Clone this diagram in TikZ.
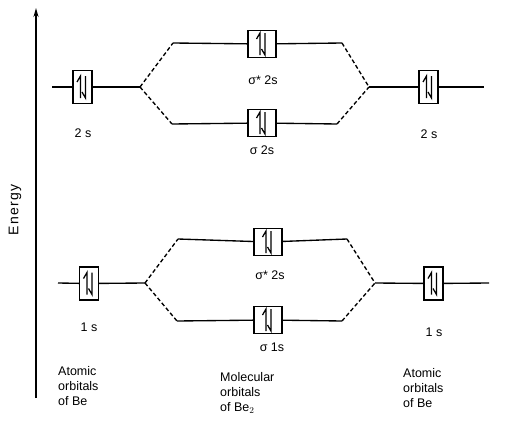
\documentclass[tikz,border=0pt]{standalone}
\usepackage{fontspec}
\setmainfont{Liberation Sans}
\usetikzlibrary{arrows.meta}
\begin{document}
\begin{tikzpicture}[x=1pt,y=-1pt,
  level/.style={line width=1.35pt},
  split/.style={line width=1.35pt,dash pattern=on 4pt off 2.5pt},
  harp/.style={line width=1.25pt,line join=miter},
  aobox/.style={draw,line width=1.25pt,fill=white,minimum width=19pt,minimum height=33pt,inner sep=0pt},
  mobox/.style={draw,line width=1.25pt,fill=white,minimum width=28pt,minimum height=27pt,inner sep=0pt},
  lbl/.style={font=\fontsize{12.5}{14}\selectfont,inner sep=0pt},
  blk/.style={font=\fontsize{12.5}{15}\selectfont,inner sep=0pt,align=left,anchor=north west}]
\useasboundingbox (0,0) rectangle (509,431);
\newcommand{\pairarrows}[1]{%
  \draw[harp] ([shift={(-2,11)}]#1.center) -- ([shift={(-2,-11)}]#1.center) -- ([shift={(-5.5,-5)}]#1.center);
  \draw[harp] ([shift={(3,-11)}]#1.center) -- ([shift={(3,11)}]#1.center) -- ([shift={(-0.5,5)}]#1.center);}
% axis
\coordinate (ax0) at (36,398);
\coordinate (ax1) at (36,8);
\draw[line width=1.9pt,-{Stealth[length=9pt,width=5pt]}] (ax0) -- (ax1);
\node[lbl,rotate=90,font=\fontsize{14}{16}\selectfont\addfontfeature{LetterSpace=10}] (en) at (15,210) {Energy};

% ---------- 2s level ----------
\coordinate (a2L) at (52,87);
\coordinate (b2L) at (140,87);
\coordinate (b2R) at (369,87);
\coordinate (a2R) at (484,87);
\coordinate (u2a) at (173,43);
\coordinate (u2b) at (342,43);
\coordinate (d2a) at (172,124);
\coordinate (d2b) at (337,124);
\node[aobox] (L2) at (82.5,87) {};
\node[aobox] (R2) at (428.5,87) {};
\node[mobox] (S2s) at (262,44) {};
\node[mobox] (S2) at (262,123) {};
\draw[level] (a2L) -- (L2) -- (b2L);
\draw[level] (b2R) -- (R2) -- (a2R);
\draw[level] (u2a) -- (S2s) -- (u2b);
\draw[level] (d2a) -- (S2) -- (d2b);
\draw[split] (b2L) -- (u2a) (b2L) -- (d2a);
\draw[split] (u2b) -- (b2R) (d2b) -- (b2R);
\pairarrows{L2}\pairarrows{R2}\pairarrows{S2s}\pairarrows{S2}
\node[lbl] (t2L) at (83,133) {2 s};
\node[lbl] (t2R) at (429,134) {2 s};
\node[lbl] (tS2s) at (263,80) {σ* 2s};
\node[lbl] (tS2) at (262,150) {σ 2s};

% ---------- 1s level ----------
\coordinate (a1L) at (58,283);
\coordinate (b1L) at (145,283);
\coordinate (b1R) at (375,283);
\coordinate (a1R) at (489,283);
\coordinate (u1a) at (178,239);
\coordinate (u1b) at (347,239);
\coordinate (d1a) at (177,321);
\coordinate (d1b) at (342,321);
\node[aobox] (L1) at (89,283.5) {};
\node[aobox] (R1) at (433.5,283.5) {};
\node[mobox] (S1s) at (268,242) {};
\node[mobox] (S1) at (268,320) {};
\draw[level] (a1L) -- (L1) -- (b1L);
\draw[level] (b1R) -- (R1) -- (a1R);
\draw[level] (u1a) -- (S1s) -- (u1b);
\draw[level] (d1a) -- (S1) -- (d1b);
\draw[split] (b1L) -- (u1a) (b1L) -- (d1a);
\draw[split] (u1b) -- (b1R) (d1b) -- (b1R);
\pairarrows{L1}\pairarrows{R1}\pairarrows{S1s}\pairarrows{S1}
\node[lbl] (t1L) at (89,327) {1 s};
\node[lbl] (t1R) at (434,332) {1 s};
\node[lbl] (tS1s) at (270,275) {σ* 2s};
\node[lbl] (tS1) at (272,347) {σ 1s};

% ---------- captions ----------
\node[blk] (capL) at (58,366) {Atomic\\orbitals\\of Be};
\node[blk] (capM) at (220,372) {Molecular\\orbitals\\of Be$_2$};
\node[blk] (capR) at (403,368) {Atomic\\orbitals\\of Be};
\end{tikzpicture}
\end{document}
